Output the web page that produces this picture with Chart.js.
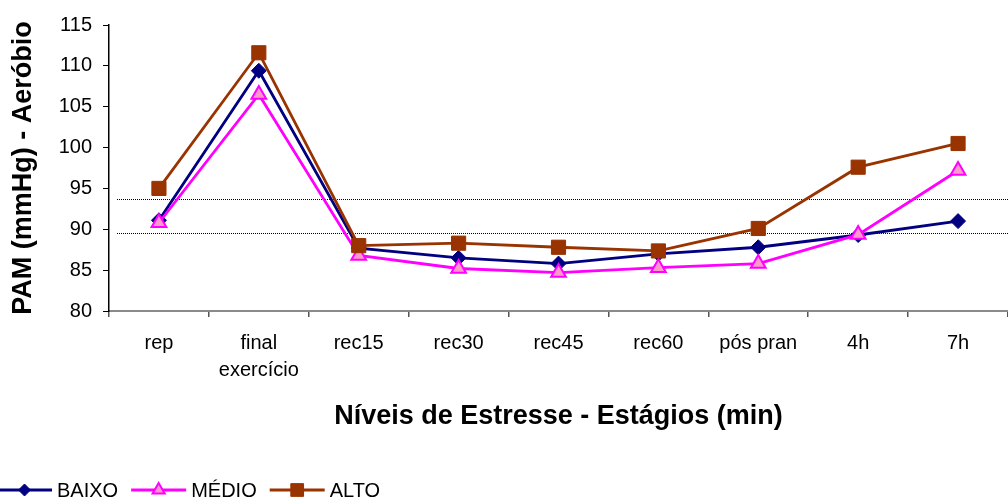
<!DOCTYPE html>
<html>
<head>
<meta charset="utf-8">
<script src="https://cdn.jsdelivr.net/npm/chart.js@4.4.1/dist/chart.umd.min.js"></script>
<style>
  html, body { margin: 0; padding: 0; background: #fff; }
  #wrap { width: 1008px; height: 499px; }
</style>
</head>
<body>
<div id="wrap"><canvas id="c" width="1008" height="499"></canvas></div>
<script>
// Stages of the stress protocol (x categories)
const stages = [['rep'], ['final', 'exercício'], ['rec15'], ['rec30'], ['rec45'], ['rec60'], ['pós pran'], ['4h'], ['7h']];

// Mean arterial pressure (mmHg) per stress level
const baixo = [91.1, 109.4, 87.7, 86.5, 85.8, 87.0, 87.8, 89.3, 91.0];
const medio = [90.8, 106.5, 86.8, 85.2, 84.7, 85.3, 85.8, 89.35, 97.2];
const alto  = [95.0, 111.6, 88.0, 88.3, 87.8, 87.35, 90.1, 97.6, 100.5];

const seriesNames = ['BAIXO', 'MÉDIO', 'ALTO'];

// Y axis range and horizontal dotted reference levels
const yMin = 80, yMax = 115, yStep = 5;
const refLevels = [93.7, 89.6];

const yTitle = 'PAM (mmHg) - Aeróbio';
const xTitle = 'Níveis de Estresse - Estágios (min)';

const FONT = 'Arial, "Liberation Sans", sans-serif';
const LINE_W = 2.8;

// Dotted reference lines across the plot
const refLinesPlugin = {
  id: 'refLines',
  beforeDatasetsDraw(chart) {
    const {ctx, chartArea, scales} = chart;
    ctx.save();
    ctx.strokeStyle = '#000';
    ctx.lineWidth = 1;
    ctx.setLineDash([1, 1]);
    refLevels.forEach(v => {
      const y = Math.round(scales.y.getPixelForValue(v)) + 0.5;
      ctx.beginPath();
      ctx.moveTo(chartArea.left + 8, y);
      ctx.lineTo(chartArea.right, y);
      ctx.stroke();
    });
    ctx.restore();
  }
};

function drawMarker(ctx, style, x, y, r, fill, stroke, lw) {
  ctx.beginPath();
  if (style === 'rectRot') {
    ctx.moveTo(x, y - r); ctx.lineTo(x + r, y); ctx.lineTo(x, y + r); ctx.lineTo(x - r, y);
  } else if (style === 'triangle') {
    for (let i = 0; i < 3; i++) {
      const a = -Math.PI / 2 + i * 2 * Math.PI / 3;
      const px = x + Math.cos(a) * r, py = y + Math.sin(a) * r;
      i ? ctx.lineTo(px, py) : ctx.moveTo(px, py);
    }
  } else {
    const s = Math.SQRT1_2 * r;
    ctx.rect(x - s, y - s, 2 * s, 2 * s);
  }
  ctx.closePath();
  ctx.fillStyle = fill; ctx.fill();
  ctx.lineWidth = lw; ctx.strokeStyle = stroke; ctx.stroke();
}

// Line-with-marker legend along the bottom edge
const lineLegendPlugin = {
  id: 'lineLegend',
  afterDraw(chart) {
    const {ctx} = chart;
    const y = 490;
    let x = -3;
    ctx.save();
    ctx.font = '20px ' + FONT;
    ctx.textBaseline = 'middle';
    chart.data.datasets.forEach(ds => {
      ctx.strokeStyle = ds.borderColor;
      ctx.lineWidth = LINE_W;
      ctx.setLineDash([]);
      ctx.beginPath(); ctx.moveTo(x, y); ctx.lineTo(x + 55, y); ctx.stroke();
      drawMarker(ctx, ds.pointStyle, x + 27.5, y, ds.legendRadius,
                 ds.pointBackgroundColor, ds.pointBorderColor, ds.pointBorderWidth);
      ctx.fillStyle = '#000';
      ctx.fillText(ds.label, x + 60, y + 1);
      x += 60 + ctx.measureText(ds.label).width + 13;
    });
    ctx.restore();
  }
};

new Chart(document.getElementById('c'), {
  type: 'line',
  data: {
    labels: stages,
    datasets: [
      {
        label: seriesNames[0], data: baixo, order: 2,
        borderColor: '#000080', borderWidth: LINE_W,
        pointStyle: 'rectRot', pointRadius: 7.5, legendRadius: 6,
        pointBackgroundColor: '#000080', pointBorderColor: '#000080', pointBorderWidth: 1
      },
      {
        label: seriesNames[1], data: medio, order: 1,
        borderColor: '#FF00FF', borderWidth: LINE_W,
        pointStyle: 'triangle', pointRadius: 8.5, legendRadius: 7,
        pointBackgroundColor: '#FF99CC', pointBorderColor: '#FF00FF', pointBorderWidth: 2
      },
      {
        label: seriesNames[2], data: alto, order: 0,
        borderColor: '#993300', borderWidth: LINE_W,
        pointStyle: 'rect', pointRadius: 10, legendRadius: 9,
        pointBackgroundColor: '#993300', pointBorderColor: '#993300', pointBorderWidth: 1
      }
    ]
  },
  options: {
    responsive: false,
    devicePixelRatio: 1,
    animation: false,
    layout: { autoPadding: false, padding: { top: 25, right: 0, left: 0, bottom: 0 } },
    plugins: { legend: { display: false }, tooltip: { enabled: false } },
    elements: { line: { tension: 0 } },
    scales: {
      x: {
        type: 'category',
        offset: true,
        grid: { offset: true, drawOnChartArea: false, drawTicks: true, tickLength: 6, color: '#555', lineWidth: 1.5 },
        border: { color: '#8a8a8a', width: 2 },
        ticks: { color: '#000', font: { family: FONT, size: 20, lineHeight: 1.35 }, padding: 13, maxRotation: 0, autoSkip: false },
        title: { display: true, text: xTitle, color: '#000', font: { family: FONT, size: 27, weight: 'bold' }, padding: { bottom: 66 } },
        afterFit(scale) { scale.height = 188; scale.paddingRight = 0; scale.paddingLeft = 0; }
      },
      y: {
        min: yMin, max: yMax,
        grid: { drawOnChartArea: false, drawTicks: true, tickLength: 6, color: '#000', lineWidth: 1 },
        border: { color: '#000', width: 1.5 },
        ticks: { stepSize: yStep, color: '#000', font: { family: FONT, size: 20 }, padding: 11 },
        title: { display: true, text: yTitle, color: '#000', font: { family: FONT, size: 27, weight: 'bold' }, padding: { top: 7 } },
        afterFit(scale) { scale.width = 109; }
      }
    }
  },
  plugins: [refLinesPlugin, lineLegendPlugin]
});
</script>
</body>
</html>
